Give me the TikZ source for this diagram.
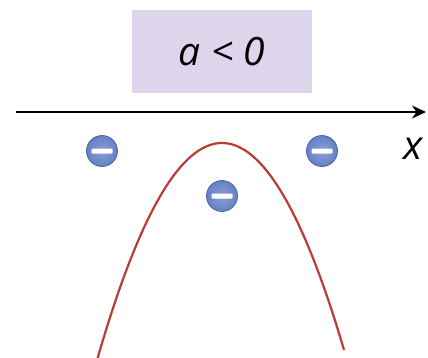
\documentclass[tikz,border=0pt]{standalone}
\usepackage{fontspec}
\setsansfont{Open Sans}
\usetikzlibrary{arrows.meta}
\definecolor{boxlilac}{HTML}{DDD5EB}
\definecolor{curvered}{HTML}{BE3A34}
\definecolor{signblue}{HTML}{6580C6}
\definecolor{signedge}{HTML}{4B65A6}

\begin{document}
\begin{tikzpicture}[x=1pt, y=-1pt, >=Stealth, line width=1.5pt,
  minus/.style={circle, draw=signedge, line width=0.8pt, inner sep=0pt,
    minimum size=31pt, inner color=signblue!75, outer color=signblue,
    path picture={\fill[white, rounded corners=1pt]
      ([xshift=-10.5pt, yshift=-2.5pt]path picture bounding box.center)
      rectangle ([xshift=10.5pt, yshift=2.5pt]path picture bounding box.center);}}]
  \useasboundingbox (0,0) rectangle (428,357);

  \node[fill=boxlilac, minimum width=180pt, minimum height=83pt,
    font=\sffamily\itshape\fontsize{39}{44}\selectfont] (sign) at (222,51.5) {a < 0};

  \coordinate (xstart) at (16,112);
  \coordinate (xend) at (426,112);
  \draw[->, line width=1.8pt, >={Stealth[length=14pt, width=13pt]}] (xstart) -- (xend);
  \node[font=\sffamily\itshape\fontsize{40}{44}\selectfont] (xlabel) at (413,149) {x};

  \draw[curvered, line width=2.2pt] plot[domain=-125:122, samples=80]
    ({222+\x}, {143+0.0139*\x*\x});

  \node[minus] (left) at (102,151) {};
  \node[minus] (right) at (322,151) {};
  \node[minus] (mid) at (222,196) {};
\end{tikzpicture}
\end{document}
